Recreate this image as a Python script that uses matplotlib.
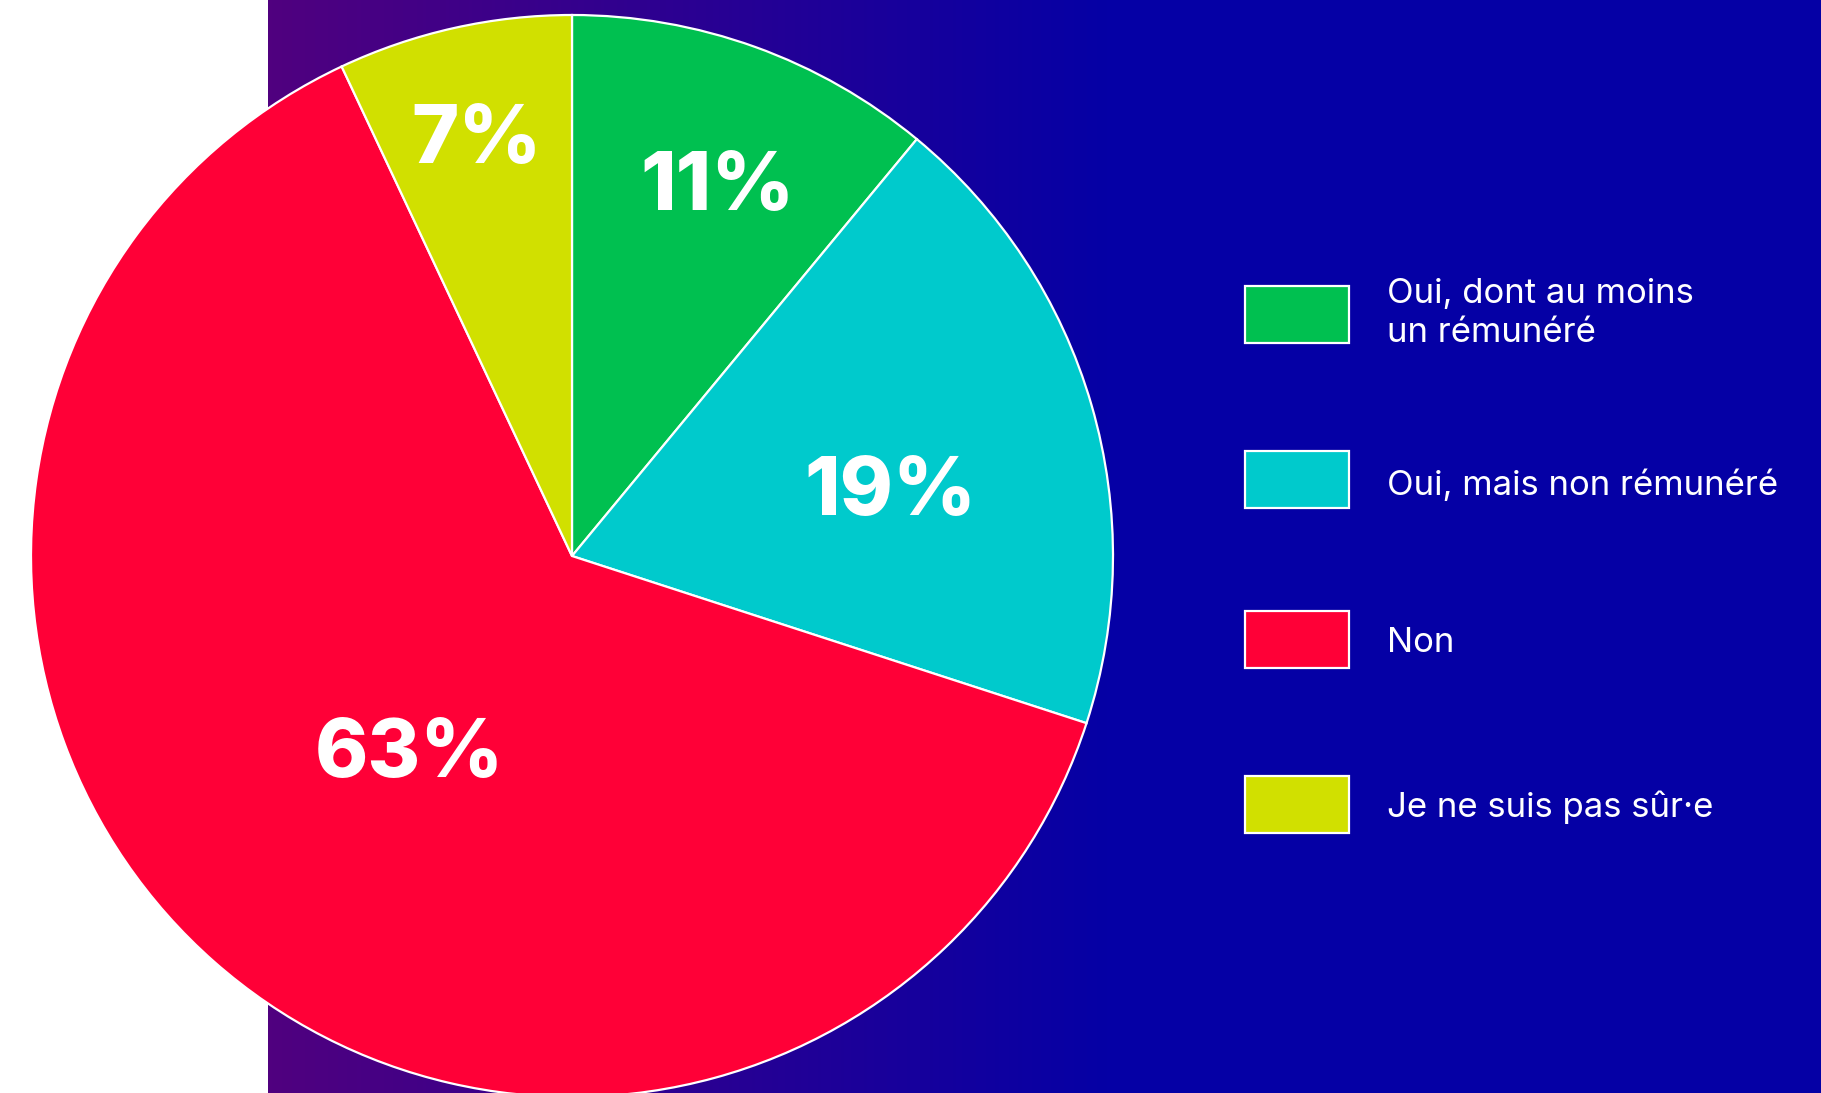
import matplotlib
matplotlib.use("Agg")
import matplotlib.pyplot as plt
import numpy as np
from matplotlib.patches import Rectangle
from matplotlib.colors import LinearSegmentedColormap

# ---- data ----
categories = ["Oui, dont au moins\nun rémunéré", "Oui, mais non rémunéré", "Non", "Je ne suis pas sûr·e"]
values = [11, 19, 63, 7]
pct_labels = ["11%", "19%", "63%", "7%"]
colors = ["#00C050", "#00CACC", "#FF0037", "#D1E000"]

# ---- layout / style ----
W, H = 1821, 1093
fig = plt.figure(figsize=(W / 100, H / 100), dpi=100)
fig.patch.set_facecolor("white")

# gradient background
bg_left = 268
bg = fig.add_axes([bg_left / W, 0, 1 - bg_left / W, 1])
grad_cmap = LinearSegmentedColormap.from_list("g", ["#50007F", "#0500A5"])
xs = np.arange(W - bg_left)
t = np.clip(xs / 842.0, 0, 1)
bg.imshow(t[None, :], aspect="auto", cmap=grad_cmap, extent=(0, 1, 0, 1), vmin=0, vmax=1)
bg.set_axis_off()

# main axes in pixel coordinates (y up)
ax = fig.add_axes([0, 0, 1, 1])
ax.set_facecolor("none")
cx, cy, R = 572, H - 556, 541
wedges, _ = ax.pie(values, colors=colors, startangle=90, counterclock=False,
                   center=(cx, cy), radius=R, frame=True,
                   wedgeprops=dict(edgecolor="white", linewidth=1.6))
ax.set_xlim(0, W)
ax.set_ylim(0, H)
ax.set_aspect("equal")
ax.set_axis_off()

# percentage labels (baseline placed half a cap-height below the glyph centre)
label_r = [0.746, 0.604, 0.463, 0.803]
label_da = [-1.3, -3.5, 0.9, 0.1]
cap_half = 31
for w, lab, rf, da in zip(wedges, pct_labels, label_r, label_da):
    ang = np.deg2rad((w.theta1 + w.theta2) / 2 + da)
    ax.text(cx + rf * R * np.cos(ang), cy + rf * R * np.sin(ang) - cap_half, lab,
            ha="center", va="baseline", color="white", fontsize=58,
            fontfamily="Inter", fontweight="heavy")

# legend (baseline offset refers to the last text line)
box_x, box_w, box_h = 1245, 104, 57
box_centers = [314, 479, 639.7, 804.7]
baseline_off = [27.7, 16, 12, 12]
text_x = 1387
for lab, col, bc, bo in zip(categories, colors, box_centers, baseline_off):
    yc = H - bc
    ax.add_patch(Rectangle((box_x, yc - box_h / 2), box_w, box_h,
                           facecolor=col, edgecolor="white", linewidth=1.6))
    ax.text(text_x, yc - bo, lab, ha="left", va="baseline", color="white",
            fontsize=25, fontfamily="Inter", linespacing=1.26)

fig.savefig("out.png", dpi=100)
